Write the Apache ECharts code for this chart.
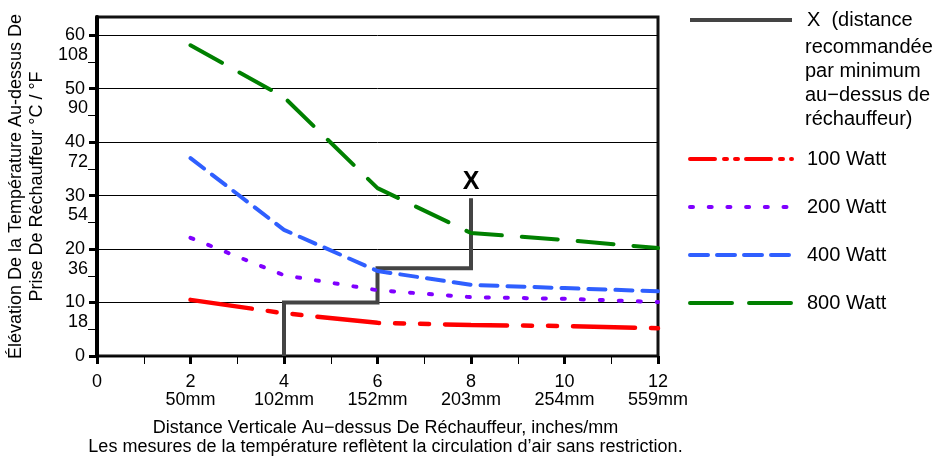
<!DOCTYPE html>
<html>
<head>
<meta charset="utf-8">
<script src="https://cdn.jsdelivr.net/npm/echarts/dist/echarts.min.js"></script>
<style>
    html, body { margin: 0; padding: 0; background: #fff; }
    #chart { width: 946px; height: 456px; }
</style>
</head>
<body>
<div id="chart"></div>
<script>
// distances (inches) where the curves were read
const distances = [2, 4, 6, 8, 10, 12];
const watt100 = [10.5, 8.0, 6.2, 5.8, 5.6, 5.2];
const watt200 = [22.1, 15.1, 12.3, 11.0, 10.7, 10.1];
const watt400 = [37.0, 23.6, 15.9, 13.3, 12.7, 12.1];
const watt800 = [58.1, 48.4, 31.4, 23.0, 21.7, 20.2];

// recommended minimum distance step line
const stepX = [4, 4, 6, 6, 8, 8];
const stepY = [0, 10, 10, 16.4, 16.4, 29.5];

// axis labels
const xTicks = [0, 2, 4, 6, 8, 10, 12];
const xLabels = ['0', '2\n50mm', '4\n102mm', '6\n152mm', '8\n203mm', '10\n254mm', '12\n559mm'];
const cTicks = [0, 10, 20, 30, 40, 50, 60];
const fTicks = [5, 15, 25, 35, 45, 55];
const fLabels = ['18', '36', '54', '72', '90', '108'];

const FONT = '"Liberation Sans", Arial, Helvetica, sans-serif';

const chart = echarts.init(document.getElementById('chart'));

function pairs(ys) {
    return distances.map((d, i) => [d, ys[i]]);
}

const lastStep = stepX.length - 1;

// legend icon: plain line, no symbol dot
const noDot = { color: 'transparent', borderColor: 'transparent', borderWidth: 0, opacity: 0 };
const legendText = { fontSize: 20, lineHeight: 24, color: '#000', fontFamily: FONT, padding: [0, 0, 0, 10] };

const option = {
    animation: false,
    backgroundColor: '#fff',
    textStyle: { fontFamily: FONT, color: '#000' },
    grid: {
        left: 97,
        right: 288,
        top: 17,
        bottom: 100,
        show: true,
        borderColor: '#111',
        borderWidth: 3,
        containLabel: false,
        outerBoundsMode: 'none',
    },
    legend: [
        {
            data: [{ name: 'X', lineStyle: { type: 'solid', width: 4, color: '#444', cap: 'butt' } }],
            orient: 'vertical',
            left: 688,
            top: 8,
            padding: 0,
            itemWidth: 102,
            itemHeight: 14,
            itemStyle: noDot,
            formatter: () => 'X  (distance',
            textStyle: legendText,
        },
        {
            data: [
                { name: '100 Watt', lineStyle: { type: [25, 9, 3, 8, 3, 8], width: 4, color: '#ff0000', cap: 'round' } },
                { name: '200 Watt', lineStyle: { type: [3, 15.7], width: 4, color: '#7f00ff', cap: 'round' } },
                { name: '400 Watt', lineStyle: { type: [18, 9], width: 4, color: '#2f5fff', cap: 'round' } },
                { name: '800 Watt', lineStyle: { type: [42, 17], width: 4, color: '#008000', cap: 'round' } },
            ],
            orient: 'vertical',
            left: 688,
            top: 147,
            padding: 0,
            itemGap: 24,
            itemWidth: 102,
            itemHeight: 14,
            itemStyle: noDot,
            textStyle: legendText,
        },
    ],
    graphic: [
        {
            type: 'text',
            left: 805,
            top: 35,
            style: {
                text: 'recommandée\npar minimum\nau−dessus de\nréchauffeur)',
                font: '20px ' + FONT,
                lineHeight: 24,
                fill: '#000',
            },
        },
    ],
    xAxis: [
        {
            type: 'value',
            min: 0,
            max: 12,
            interval: 2,
            position: 'bottom',
            offset: 3,
            axisLine: { show: false },
            axisTick: { show: true, length: 8, lineStyle: { color: '#000', width: 3 } },
            axisLabel: {
                margin: 14,
                fontSize: 18,
                lineHeight: 18,
                color: '#000',
                fontFamily: FONT,
                formatter: (v) => xLabels[xTicks.indexOf(v)],
            },
            splitLine: { show: false },
            name: 'Distance Verticale Au−dessus De Réchauffeur, inches/mm\nLes mesures de la température reflètent la circulation d’air sans restriction.',
            nameLocation: 'middle',
            nameGap: 60,
            nameTextStyle: { fontSize: 18, lineHeight: 19, color: '#000', fontFamily: FONT, padding: [0, 0, 0, 16] },
        },
        {
            type: 'value',
            min: 0,
            max: 12,
            interval: 1,
            position: 'bottom',
            offset: 3,
            axisLine: { show: false },
            axisTick: { show: true, length: 8, lineStyle: { color: '#000', width: 1 } },
            axisLabel: { show: false },
            splitLine: { show: false },
        },
    ],
    yAxis: [
        {
            type: 'value',
            min: 0,
            max: 63.4,
            interval: 10,
            position: 'left',
            axisLine: { show: true, lineStyle: { color: '#000', width: 4 } },
            axisTick: { show: true, length: 8, customValues: cTicks, lineStyle: { color: '#000', width: 3 } },
            axisLabel: { customValues: cTicks, margin: 12, fontSize: 18, color: '#000', fontFamily: FONT },
            splitLine: { show: true, lineStyle: { color: '#000', width: 1 } },
            name: 'Élévation De la Température Au-dessus De\nPrise De Réchauffeur °C / °F',
            nameLocation: 'middle',
            nameRotate: 90,
            nameGap: 49,
            nameTextStyle: { fontSize: 18, lineHeight: 21, color: '#000', fontFamily: FONT },
        },
        {
            type: 'value',
            min: 0,
            max: 63.4,
            interval: 10,
            position: 'left',
            axisLine: { show: false },
            axisTick: { show: true, length: 9, customValues: fTicks, lineStyle: { color: '#000', width: 1 } },
            axisLabel: {
                customValues: fTicks,
                margin: 9,
                fontSize: 18,
                color: '#000',
                fontFamily: FONT,
                verticalAlign: 'bottom',
                padding: [0, 0, -2, 0],
                formatter: (v) => fLabels[fTicks.indexOf(v)],
            },
            splitLine: { show: false },
        },
    ],
    series: [
        {
            name: 'X',
            type: 'line',
            symbol: 'none',
            data: stepX.map((x, i) => [x, stepY[i]]),
            lineStyle: { color: '#444', width: 4, cap: 'butt', join: 'miter' },
            itemStyle: { color: '#444' },
            markPoint: {
                symbol: 'circle',
                symbolSize: 0,
                data: [{ coord: [stepX[lastStep], stepY[lastStep]] }],
                label: {
                    show: true,
                    formatter: 'X',
                    position: 'top',
                    distance: 4,
                    fontSize: 25,
                    fontWeight: 'bold',
                    fontFamily: FONT,
                    color: '#000',
                },
            },
            z: 3,
        },
        {
            name: '100 Watt',
            type: 'line',
            symbol: 'none',
            data: pairs(watt100),
            lineStyle: { color: '#ff0000', width: 4.5, type: [62, 16, 9, 16, 9, 16], cap: 'round' },
            itemStyle: { color: '#ff0000' },
            z: 4,
        },
        {
            name: '200 Watt',
            type: 'line',
            symbol: 'none',
            data: pairs(watt200),
            lineStyle: { color: '#7f00ff', width: 4, type: [3, 16], cap: 'round' },
            itemStyle: { color: '#7f00ff' },
            z: 4,
        },
        {
            name: '400 Watt',
            type: 'line',
            symbol: 'none',
            data: pairs(watt400),
            lineStyle: { color: '#2f5fff', width: 4, type: [17, 10], cap: 'round' },
            itemStyle: { color: '#2f5fff' },
            z: 4,
        },
        {
            name: '800 Watt',
            type: 'line',
            symbol: 'none',
            data: pairs(watt800),
            lineStyle: { color: '#008000', width: 4, type: [36, 20], cap: 'round' },
            itemStyle: { color: '#008000' },
            z: 4,
        },
    ],
};

chart.setOption(option);
</script>
</body>
</html>
